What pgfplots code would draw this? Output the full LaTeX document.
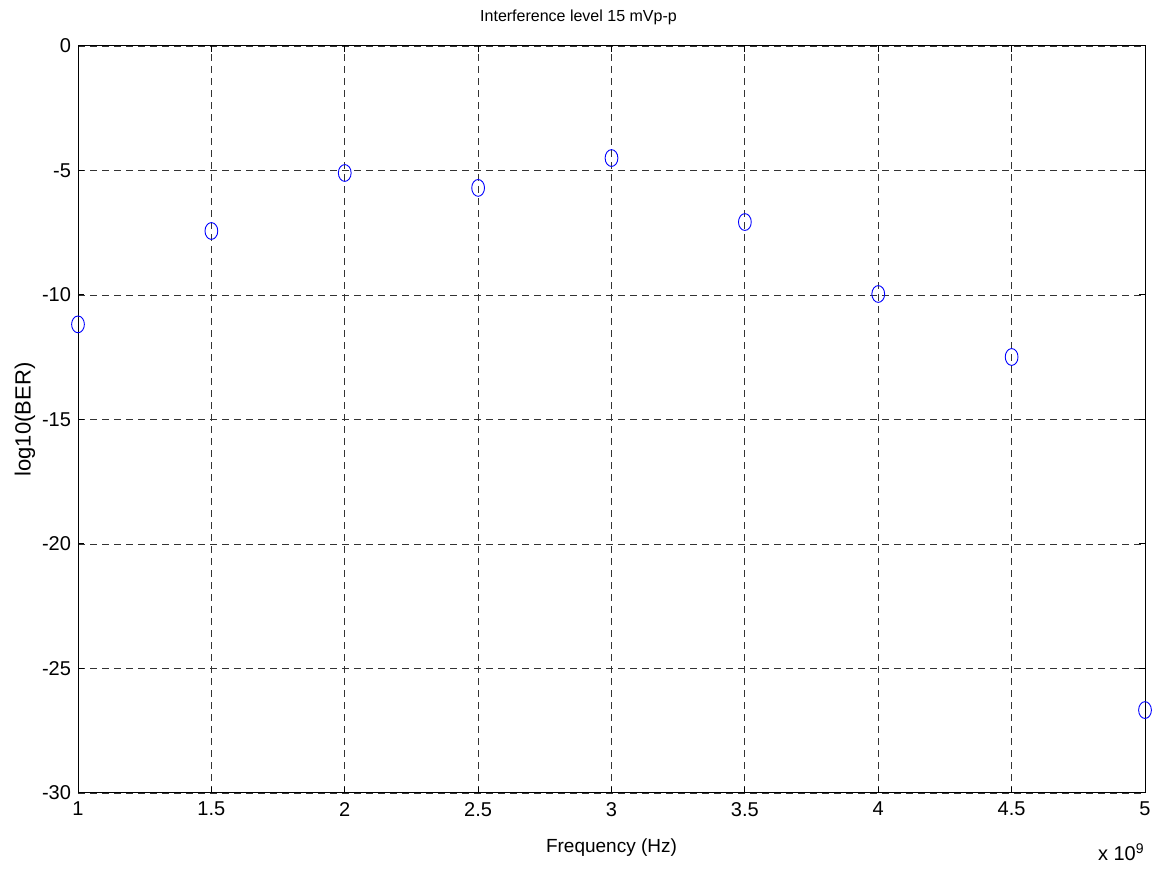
\documentclass[border=0pt]{standalone}
\usepackage{pgfplots}
\pgfplotsset{compat=1.18}
\usepackage{fontspec}
\setmainfont{Liberation Sans}
\begin{document}
\begin{tikzpicture}
\begin{axis}[
  name=ax,
  scale only axis,
  width=533.5pt, height=373.5pt,
  xmin=1, xmax=5, ymin=-30, ymax=0,
  xtick={1,1.5,2,2.5,3,3.5,4,4.5,5},
  xticklabels={1,1.5,2,2.5,3,3.5,4,4.5,5},
  ytick={-30,-25,-20,-15,-10,-5,0},
  /pgf/number format/assume math mode=true,
  tick label style={font=\fontsize{10}{12}\selectfont},
  xticklabel style={yshift=-1pt},
  grid=major,
  major grid style={black!80, line width=0.4pt, dash pattern=on 3.5pt off 2.5pt},
  axis line style={line width=0.5pt},
  tick style={black, line width=0.5pt},
  major tick length=3pt,
  tick align=inside,
  title={Interference level 15 mVp-p},
  title style={font=\fontsize{8}{10}\selectfont, yshift=1pt, xshift=-16.5pt},
  xlabel={Frequency (Hz)},
  ylabel={log10(BER)},
  xlabel style={font=\fontsize{9.5}{11}\selectfont, yshift=-4.5pt},
  ylabel style={font=\fontsize{11}{13}\selectfont, yshift=-3.5pt},
]
\addplot[only marks, blue, mark=o, mark size=4.2pt, mark options={xscale=0.76, line width=0.45pt}]
coordinates {
(1,-11.18) (1.5,-7.43) (2,-5.1) (2.5,-5.7) (3,-4.5) (3.5,-7.07) (4,-9.96) (4.5,-12.49) (5,-26.67)
};
\end{axis}
\node[anchor=north east, font=\fontsize{10}{12}\selectfont, inner sep=0pt] at ([xshift=0pt,yshift=-25pt]ax.south east) {x 10\textsuperscript{9}};
\pgfresetboundingbox
\path[use as bounding box] ([xshift=-39pt,yshift=-38.5pt]ax.south west) rectangle ([xshift=7pt,yshift=23pt]ax.north east);
\end{tikzpicture}
\end{document}
